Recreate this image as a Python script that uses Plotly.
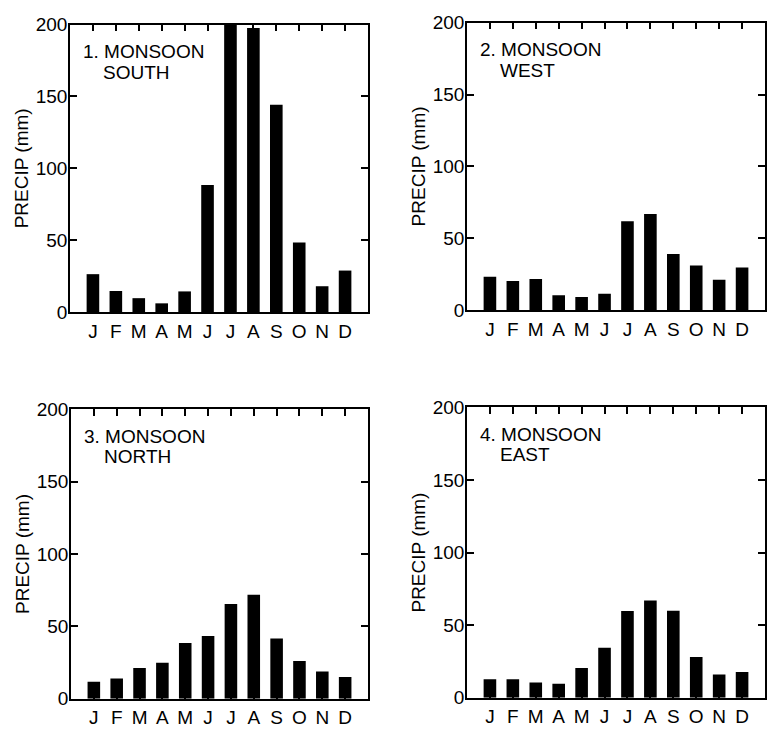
import plotly.graph_objects as go

months = ["J", "F", "M", "A", "M", "J", "J", "A", "S", "O", "N", "D"]
month_idx = list(range(12))

south = [26.4, 14.7, 9.7, 6.1, 14.4, 88.4, 200.0, 197.7, 144.3, 48.5, 18.0, 28.9]
west = [23.2, 20.3, 21.6, 10.4, 9.2, 11.5, 61.9, 66.9, 39.0, 31.1, 21.2, 29.7]
north = [11.8, 14.0, 21.2, 24.9, 38.5, 43.4, 65.5, 71.9, 41.6, 26.1, 18.9, 15.1]
east = [12.7, 12.7, 10.5, 9.6, 20.5, 34.5, 59.7, 67.0, 59.9, 28.1, 16.0, 17.8]

titles_line1 = ["1. MONSOON", "2. MONSOON", "3. MONSOON", "4. MONSOON"]
titles_line2 = ["SOUTH", "WEST", "NORTH", "EAST"]
series = [south, west, north, east]

y_ticks = [0, 50, 100, 150, 200]

W, H = 768, 735
# pixel boxes of each panel: left, right, top, bottom
boxes = [
    (70, 368, 15, 311),
    (467, 765, 13, 309),
    (71, 368, 411, 709),
    (467, 765, 409, 708),
]

FONT = "Liberation Sans, Arial, sans-serif"
FS = 19
fig = go.Figure()
layout = dict(
    width=W, height=H,
    margin=dict(l=0, r=0, t=0, b=0),
    paper_bgcolor="white", plot_bgcolor="white",
    showlegend=False,
    font=dict(family=FONT, size=FS, color="black"),
    annotations=[],
)

for i, (vals, b) in enumerate(zip(series, boxes)):
    n = i + 1
    xa = "x" if n == 1 else f"x{n}"
    ya = "y" if n == 1 else f"y{n}"
    fig.add_trace(go.Bar(x=month_idx, y=vals, xaxis=xa, yaxis=ya,
                         marker=dict(color="black", line=dict(width=0)),
                         width=0.55))
    l, r, t, bt = b
    xd = [l / W, r / W]
    yd = [1 - bt / H, 1 - t / H]
    xkey = "xaxis" if n == 1 else f"xaxis{n}"
    ykey = "yaxis" if n == 1 else f"yaxis{n}"
    layout[xkey] = dict(domain=xd, anchor=ya, range=[-1, 12],
                        tickmode="array", tickvals=month_idx, ticktext=months,
                        ticks="inside", ticklen=7, tickwidth=1.5, tickcolor="black",
                        showgrid=False, zeroline=False,
                        showline=True, mirror="allticks", linecolor="black", linewidth=1.5,
                        tickfont=dict(size=FS), ticklabelstandoff=1, fixedrange=True)
    layout[ykey] = dict(domain=yd, anchor=xa, range=[0, 200],
                        tickmode="array", tickvals=y_ticks,
                        ticks="inside", ticklen=7, tickwidth=1.5, tickcolor="black",
                        showgrid=False, zeroline=False,
                        showline=True, mirror="allticks", linecolor="black", linewidth=1.5,
                        tickfont=dict(size=FS), ticklabelstandoff=-3,
                        title=dict(text="PRECIP (mm)", font=dict(size=FS), standoff=2),
                        fixedrange=True)
    layout["annotations"].append(dict(
        text=titles_line1[i], xref=f"{xa} domain", yref=f"{ya} domain",
        x=11 / (r - l), y=1 - 28 / (bt - t), xanchor="left", yanchor="middle",
        showarrow=False, font=dict(size=FS)))
    layout["annotations"].append(dict(
        text=titles_line2[i], xref=f"{xa} domain", yref=f"{ya} domain",
        x=31 / (r - l), y=1 - 49 / (bt - t), xanchor="left", yanchor="middle",
        showarrow=False, font=dict(size=FS)))

fig.update_layout(**layout)
fig.write_html("out.html")
